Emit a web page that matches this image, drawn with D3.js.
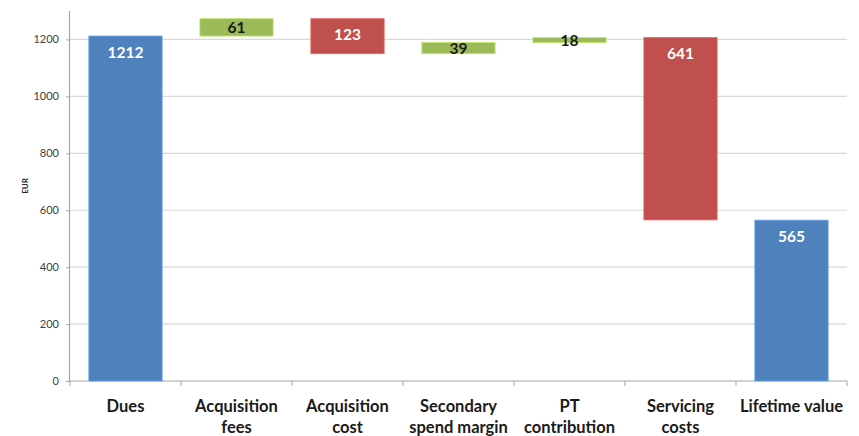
<!DOCTYPE html>
<html>
<head>
<meta charset="utf-8">
<script src="https://cdn.jsdelivr.net/npm/d3@7"></script>
<style>
  html, body { margin: 0; padding: 0; background: #fff; }
  svg { display: block; font-family: Lato, "Open Sans", "DejaVu Sans", sans-serif; }
</style>
</head>
<body>
<svg id="chart" width="859" height="436"></svg>
<script>
// Waterfall of customer lifetime value components (EUR)
const categories = [["Dues"], ["Acquisition", "fees"], ["Acquisition", "cost"],
  ["Secondary", "spend margin"], ["PT", "contribution"], ["Servicing", "costs"], ["Lifetime value"]];
const values = [1212, 61, -123, 39, 18, -641, 565];
const kinds = ["total", "delta", "delta", "delta", "delta", "delta", "total"];
const yTicks = [0, 200, 400, 600, 800, 1000, 1200];
const yLabel = "EUR";

const colors = { total: "#4F81BD", up: "#9BBB59", down: "#C0504D" };

const svg = d3.select("#chart");
const margin = { left: 70, right: 12, top: 10, bottom: 55 };
const W = 859, H = 436;

const x = d3.scaleBand()
  .domain(d3.range(categories.length))
  .range([margin.left, W - margin.right])
  .paddingInner(0.34).paddingOuter(0.17);

const y = d3.scaleLinear().domain([0, 1300]).range([381, 11]);

// running totals for the floating bars
let running = 0;
const bars = values.map((v, i) => {
  let lo, hi, type;
  if (kinds[i] === "total") {
    lo = 0; hi = v; running = v; type = "total";
  } else {
    const start = running;
    running += v;
    lo = Math.min(start, running); hi = Math.max(start, running);
    type = v >= 0 ? "up" : "down";
  }
  return { i, v, lo, hi, type };
});

// gridlines
svg.append("g")
  .selectAll("line")
  .data(yTicks.filter(t => t > 0))
  .join("line")
  .attr("x1", margin.left).attr("x2", W - margin.right)
  .attr("y1", d => y(d)).attr("y2", d => y(d))
  .attr("stroke", "#d9d9d9").attr("stroke-width", 1.2);

// y axis
const yAxis = svg.append("g")
  .attr("transform", `translate(${margin.left},0)`)
  .call(d3.axisLeft(y).tickValues(yTicks).tickSize(4).tickPadding(7).tickFormat(d3.format("d")));
yAxis.select(".domain").attr("d", `M-0.5,${y(1300)}V${y(0)}`).attr("stroke", "#a6a6a6").attr("stroke-width", 1.2);
yAxis.selectAll(".tick line").attr("stroke", "#a6a6a6");
yAxis.selectAll(".tick text").attr("fill", "#404040").attr("font-size", 11).style("font-family", "Lato, sans-serif");

// x axis baseline with boundary ticks
const bounds = d3.range(categories.length + 1).map(k => margin.left + k * (W - margin.right - margin.left) / categories.length);
const xg = svg.append("g");
xg.append("line")
  .attr("x1", margin.left).attr("x2", W - margin.right)
  .attr("y1", y(0)).attr("y2", y(0))
  .attr("stroke", "#a6a6a6").attr("stroke-width", 1.2);
xg.selectAll("line.b").data(bounds).join("line").attr("class", "b")
  .attr("x1", d => d).attr("x2", d => d)
  .attr("y1", y(0)).attr("y2", y(0) + 5)
  .attr("stroke", "#a6a6a6");

// category labels
xg.selectAll("text.cat").data(categories).join("text").attr("class", "cat")
  .attr("x", (d, i) => x(i) + x.bandwidth() / 2)
  .attr("y", 412)
  .attr("text-anchor", "middle")
  .attr("font-size", 16.5).attr("font-weight", 700).attr("fill", "#1a1a1a")
  .selectAll("tspan").data(d => d).join("tspan")
  .attr("x", function () { return this.parentNode.getAttribute("x"); })
  .attr("dy", (d, k) => k === 0 ? 0 : 21)
  .text(d => d);

// axis title
svg.append("text")
  .attr("transform", `translate(28,186) rotate(-90)`)
  .attr("text-anchor", "middle")
  .attr("font-size", 8).attr("font-weight", 700).attr("fill", "#262626")
  .text(yLabel);

// bars
svg.append("g").selectAll("rect").data(bars).join("rect")
  .attr("x", d => x(d.i))
  .attr("width", x.bandwidth())
  .attr("y", d => y(d.hi))
  .attr("height", d => y(d.lo) - y(d.hi))
  .attr("fill", d => colors[d.type])
  .attr("stroke", d => d3.color(colors[d.type]).brighter(0.6))
  .attr("stroke-width", 0.8);

// value labels
svg.append("g").selectAll("text").data(bars).join("text")
  .attr("x", d => x(d.i) + x.bandwidth() / 2)
  .attr("y", d => {
    const top = y(d.hi), mid = (y(d.hi) + y(d.lo)) / 2;
    return Math.min(top + 16, mid) + 5.5;
  })
  .attr("text-anchor", "middle")
  .attr("font-size", 15.5).attr("font-weight", 700)
  .attr("fill", d => d.type === "up" ? "#1a1a1a" : "#ffffff")
  .text(d => Math.abs(d.v));
</script>
</body>
</html>
